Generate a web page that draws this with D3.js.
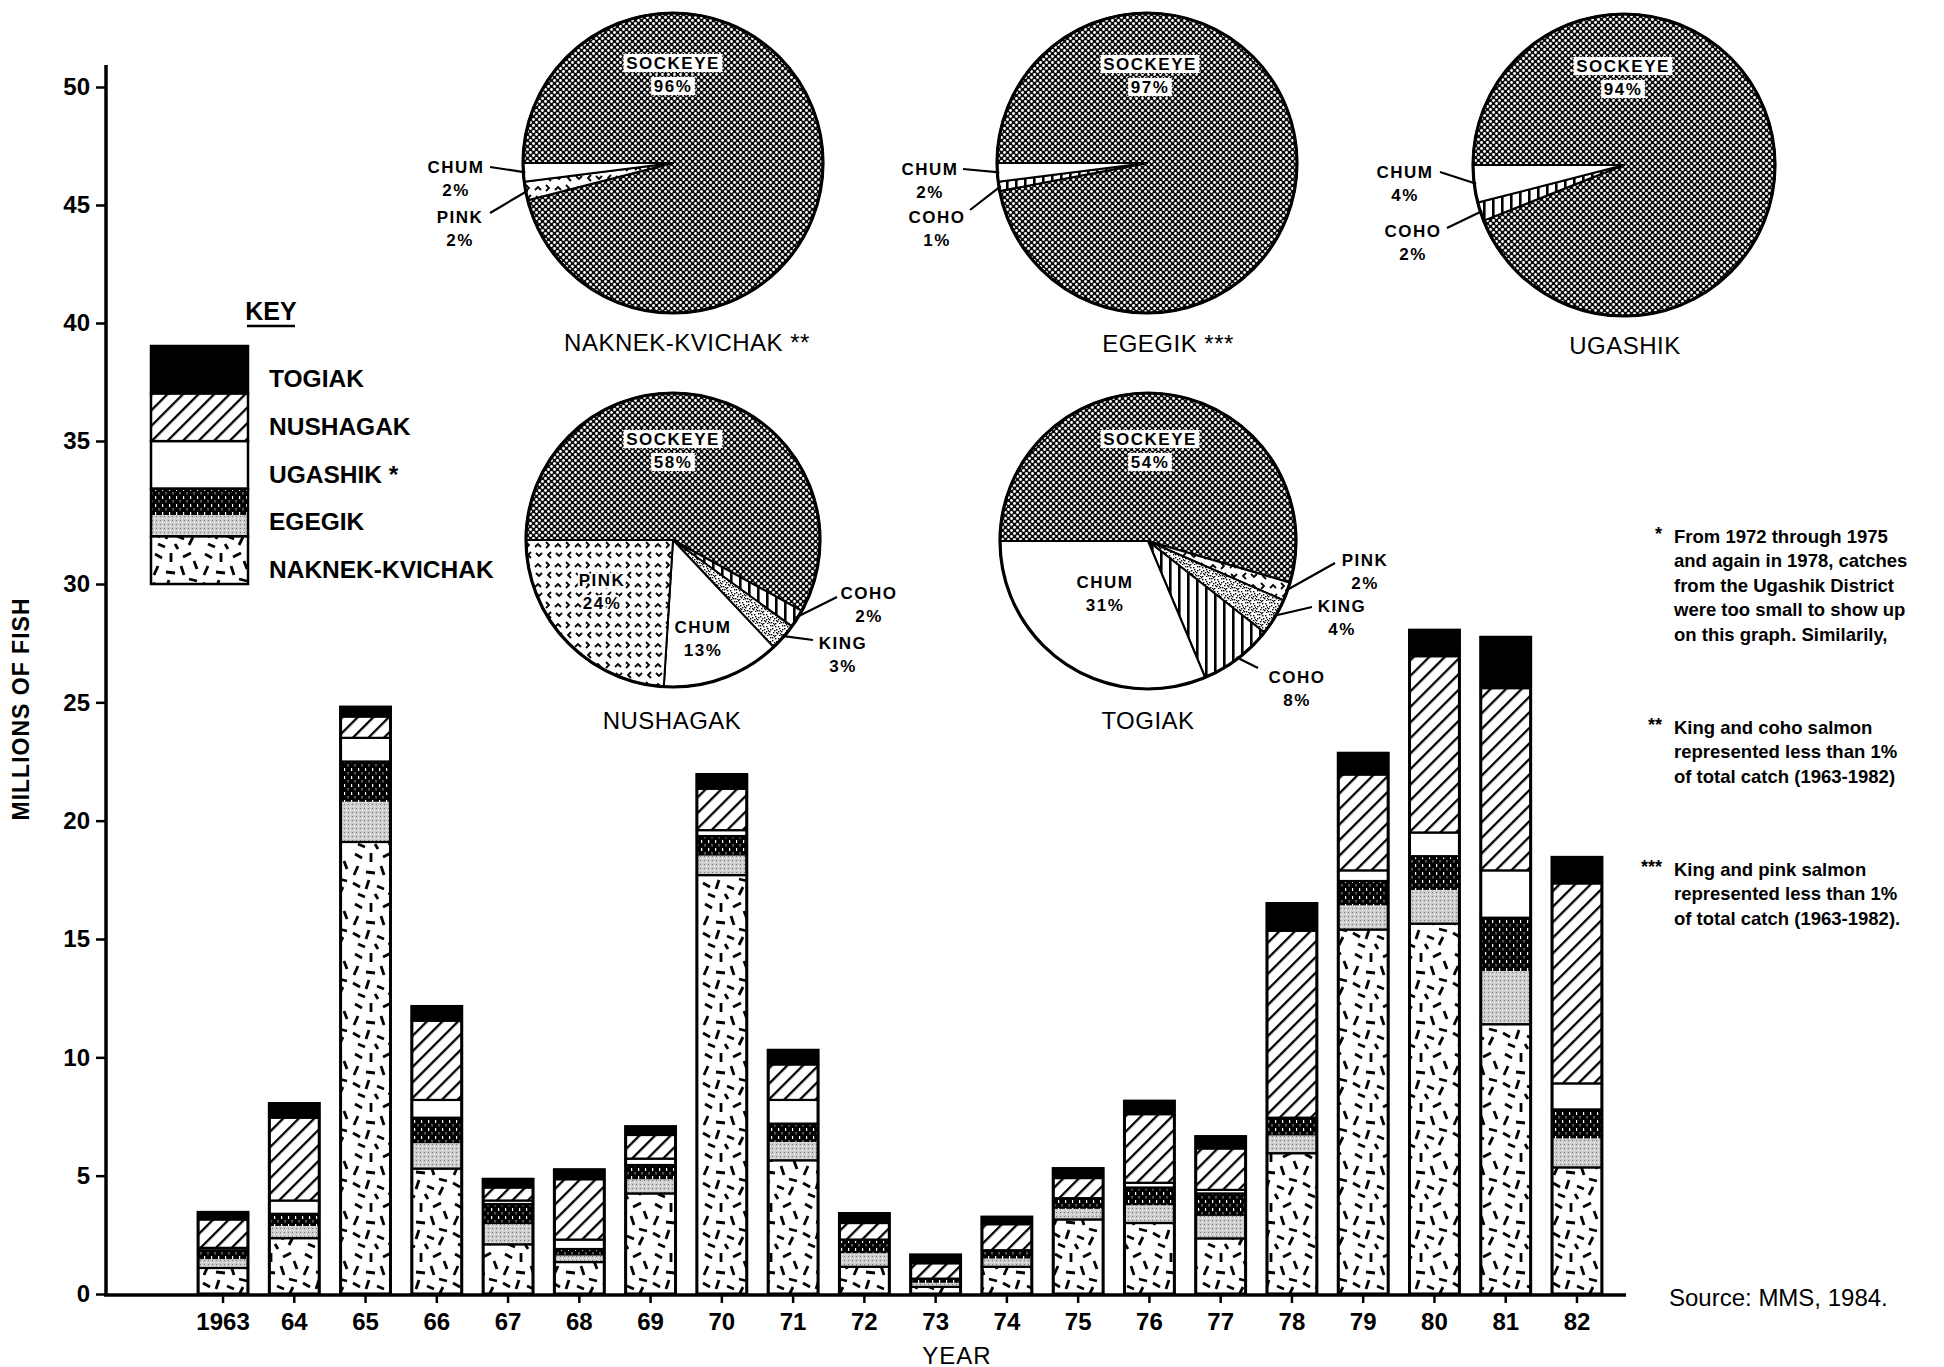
<!DOCTYPE html>
<html><head><meta charset="utf-8">
<script src="https://cdn.jsdelivr.net/npm/d3@7"></script>
<style>
body{margin:0;background:#fff}
svg{display:block}
text{font-family:"Liberation Sans",Arial,Helvetica,sans-serif;fill:#000}
</style>
</head><body>
<script>
// ---------------- DATA ----------------
const years = ["1963","64","65","66","67","68","69","70","71","72","73","74","75","76","77","78","79","80","81","82"];
const districtKeys = ["naknek","egegik","ugashik","nushagak","togiak"];
const districtLabels = ["NAKNEK-KVICHAK","EGEGIK","UGASHIK  *","NUSHAGAK","TOGIAK"];
// millions of fish, by district (bottom to top of each bar)
const naknek   = [1.10,2.36,19.10,5.30,2.10,1.35,4.25,17.70,5.65,1.15,0.30,1.15,3.15,3.00,2.35,5.95,15.40,15.65,11.40,5.35];
const egegik   = [0.75,1.03,3.40,2.15,1.70,0.55,1.20,1.65,1.55,1.15,0.35,0.70,0.90,1.50,1.90,1.50,2.05,2.85,4.50,2.45];
const ugashik  = [0.10,0.56,1.00,0.75,0.15,0.40,0.27,0.25,1.00,0,0,0,0,0.20,0.15,0,0.45,1.00,2.00,1.10];
const nushagak = [1.20,3.50,0.90,3.35,0.55,2.55,1.00,1.75,1.50,0.70,0.65,1.10,0.85,2.90,1.75,7.90,4.05,7.45,7.70,8.45];
const togiak   = [0.30,0.60,0.40,0.60,0.35,0.40,0.35,0.60,0.60,0.40,0.35,0.30,0.40,0.55,0.50,1.15,0.90,1.10,2.15,1.10];
const yTicks = [0,5,10,15,20,25,30,35,40,45,50];

// pie charts: species share of total catch (percent), in clockwise order from 9 o'clock
const pieTitles  = ["NAKNEK-KVICHAK **","EGEGIK ***","UGASHIK","NUSHAGAK","TOGIAK"];
const pieSpecies = [["SOCKEYE","PINK","CHUM"],["SOCKEYE","COHO","CHUM"],["SOCKEYE","COHO","CHUM"],["SOCKEYE","COHO","KING","CHUM","PINK"],["SOCKEYE","PINK","KING","COHO","CHUM"]];
const piePercents = [[96,2,2],[97,1,2],[94,2,4],[58,2,3,13,24],[54,2,4,8,31]];

const notes = [
  {mark:"*",   lines:["From 1972 through 1975","and again in 1978, catches","from the Ugashik District","were too small to show up","on this graph.  Similarily,"]},
  {mark:"**",  lines:["King and coho salmon","represented less than 1%","of total catch (1963-1982)"]},
  {mark:"***", lines:["King and pink salmon","represented less than 1%","of total catch (1963-1982)."]}
];

// ---------------- LAYOUT / STYLE ----------------
const W = 1944, H = 1367;
const svg = d3.select("body").append("svg").attr("width", W).attr("height", H);
const defs = svg.append("defs");

function pat(id, w, h, bg) {
  const p = defs.append("pattern").attr("id", id).attr("patternUnits", "userSpaceOnUse").attr("width", w).attr("height", h);
  p.append("rect").attr("width", w).attr("height", h).attr("fill", bg);
  return p;
}
// sockeye: black with white dots
const pS = pat("pSock", 6, 6, "#0c0c0c");
pS.append("circle").attr("cx", 1.5).attr("cy", 1.5).attr("r", 1.4).attr("fill", "#fff");
pS.append("circle").attr("cx", 4.5).attr("cy", 4.5).attr("r", 1.4).attr("fill", "#fff");
// pink: chevrons
const pP = pat("pPink", 20, 20, "#fff");
["M2,7 l3,-3 l3,3", "M13,2 l3,3 l-3,3", "M3,13 l3,3 l3,-3", "M18,12 l-3,3 l3,3"].forEach(d =>
  pP.append("path").attr("d", d).attr("fill", "none").attr("stroke", "#000").attr("stroke-width", 1.8));
// coho: vertical lines
const pC = pat("pCoho", 9, 10, "#fff");
pC.append("rect").attr("x", 3).attr("width", 2.6).attr("height", 10).attr("fill", "#000");
// king: stipple
const pK = pat("pKing", 12, 12, "#fff");
[[1,1],[5,0],[9,2],[3,4],[7,5],[11,6],[0,7],[4,8],[8,9],[2,10],[6,11],[10,11],[6,2],[1,5],[9,7],[4,11],[3,1],[10,4],[7,8],[0,10],[5,6],[11,9]]
  .forEach(([a, b]) => pK.append("rect").attr("x", a).attr("y", b).attr("width", 1.4).attr("height", 1.4).attr("fill", "#000"));
// nushagak: diagonal hatch
defs.append("pattern").attr("id", "pHatch").attr("patternUnits", "userSpaceOnUse").attr("width", 11).attr("height", 11)
  .attr("patternTransform", "rotate(45)")
  .call(p => { p.append("rect").attr("width", 11).attr("height", 11).attr("fill", "#fff");
               p.append("line").attr("x1", 1).attr("y1", 0).attr("x2", 1).attr("y2", 11).attr("stroke", "#000").attr("stroke-width", 2.6); });
// naknek: random short dashes
const pN = pat("pNak", 50, 50, "#fff");
[[5,4,12,8],[21,3,21,12],[33,7,41,3],[44,11,47,19],[8,16,4,25],[16,22,25,23],[31,16,34,25],[39,29,47,31],
 [3,33,10,37],[19,30,16,39],[27,36,34,39],[43,37,39,45],[8,44,15,47],[25,44,28,49]]
  .forEach(([a, b, c, d]) => pN.append("line").attr("x1", a).attr("y1", b).attr("x2", c).attr("y2", d)
    .attr("stroke", "#000").attr("stroke-width", 2.8).attr("stroke-linecap", "butt"));
// egegik: dark mottled + light stipple
const pED = pat("pEgD", 7, 8, "#000");
pED.append("rect").attr("x", 1).attr("y", 0).attr("width", 1.2).attr("height", 3).attr("fill", "#fff");
pED.append("rect").attr("x", 4.5).attr("y", 4).attr("width", 1).attr("height", 2.5).attr("fill", "#aaa");
const pEL = pat("pEgL", 4, 4, "#cdcdcd");
pEL.append("rect").attr("width", 1).attr("height", 1).attr("fill", "#777");
pEL.append("rect").attr("x", 2).attr("y", 2).attr("width", 1).attr("height", 1).attr("fill", "#fff");

const fills = {naknek: "url(#pNak)", egegik: "url(#pEgD)", ugashik: "#fff", nushagak: "url(#pHatch)", togiak: "#000"};
const pieFill = {SOCKEYE: "url(#pSock)", CHUM: "#fff", PINK: "url(#pPink)", COHO: "url(#pCoho)", KING: "url(#pKing)"};

// ---------------- SCALES ----------------
const y = d3.scaleLinear().domain([0, 30, 35, 50]).range([1294, 584, 441, 87]);
const x = d3.scaleBand().domain(years).range([176.7, 1623.3]).paddingInner(0.3).paddingOuter(0.3);

// ---------------- BARS ----------------
const rows = years.map((yr, i) => ({year: yr, naknek: naknek[i], egegik: egegik[i], ugashik: ugashik[i], nushagak: nushagak[i], togiak: togiak[i]}));
const series = d3.stack().keys(districtKeys)(rows);

const gBars = svg.append("g");
series.forEach(s => {
  const g = gBars.append("g");
  s.filter(d => d[1] - d[0] > 0.001).forEach(d => {
    const x0 = x(d.data.year), bw = x.bandwidth();
    const yTop = y(d[1]), yBot = y(d[0]);
    g.append("rect").attr("x", x0).attr("y", yTop).attr("width", bw).attr("height", yBot - yTop).attr("fill", fills[s.key]);
    if (s.key === "egegik") {
      const mid = yTop + (yBot - yTop) * 0.5;
      g.append("rect").attr("x", x0).attr("y", mid).attr("width", bw).attr("height", yBot - mid).attr("fill", "url(#pEgL)");
    }
    g.append("rect").attr("x", x0).attr("y", yTop).attr("width", bw).attr("height", yBot - yTop)
      .attr("fill", "none").attr("stroke", "#000").attr("stroke-width", 2.2);
  });
});
// bar outlines
gBars.selectAll(".outline").data(rows).join("rect").attr("class", "outline")
  .attr("x", d => x(d.year)).attr("width", x.bandwidth())
  .attr("y", d => y(d.naknek + d.egegik + d.ugashik + d.nushagak + d.togiak))
  .attr("height", d => y(0) - y(d.naknek + d.egegik + d.ugashik + d.nushagak + d.togiak))
  .attr("fill", "none").attr("stroke", "#000").attr("stroke-width", 3);

// ---------------- AXES ----------------
const gx = svg.append("g").attr("transform", `translate(0,${y(0)})`)
  .call(d3.axisBottom(x).tickSize(9).tickPadding(10));
gx.select(".domain").remove();
gx.selectAll(".tick line").attr("stroke", "#000").attr("stroke-width", 2.5);
gx.selectAll(".tick text").attr("font-size", 24).attr("font-weight", "bold").attr("font-family", "'Liberation Sans',Arial,sans-serif").attr("fill", "#000");
svg.append("line").attr("x1", 104).attr("x2", 1626).attr("y1", y(0) + 1).attr("y2", y(0) + 1).attr("stroke", "#000").attr("stroke-width", 3.5);

const gy = svg.append("g").attr("transform", "translate(106,0)")
  .call(d3.axisLeft(y).tickValues(yTicks).tickSize(10).tickPadding(6));
gy.select(".domain").remove();
gy.selectAll(".tick line").attr("stroke", "#000").attr("stroke-width", 2.5);
gy.selectAll(".tick text").attr("font-size", 24).attr("font-weight", "bold").attr("font-family", "'Liberation Sans',Arial,sans-serif").attr("fill", "#000");
svg.append("line").attr("x1", 106).attr("x2", 106).attr("y1", 65).attr("y2", y(0) + 2).attr("stroke", "#000").attr("stroke-width", 3.5);

svg.append("text").attr("x", 957).attr("y", 1355).attr("text-anchor", "middle").attr("dominant-baseline", "central")
  .attr("font-size", 24).attr("letter-spacing", 1).text("YEAR");
svg.append("text").attr("transform", "translate(21,709) rotate(-90)").attr("text-anchor", "middle").attr("dominant-baseline", "central")
  .attr("font-size", 23).attr("font-weight", "bold").attr("letter-spacing", 1).text("MILLIONS OF FISH");

// ---------------- KEY ----------------
svg.append("text").attr("x", 271).attr("y", 311).attr("text-anchor", "middle").attr("dominant-baseline", "central")
  .attr("font-size", 25).attr("font-weight", "bold").text("KEY");
svg.append("line").attr("x1", 247).attr("x2", 295).attr("y1", 326).attr("y2", 326).attr("stroke", "#000").attr("stroke-width", 2.5);
const keyOrder = districtKeys.slice().reverse();
const ky = d3.scaleBand().domain(keyOrder).range([346, 584]);
keyOrder.forEach(k => {
  svg.append("rect").attr("x", 151).attr("y", ky(k)).attr("width", 97).attr("height", ky.bandwidth()).attr("fill", fills[k]);
  if (k === "egegik") svg.append("rect").attr("x", 151).attr("y", ky(k) + ky.bandwidth() * 0.55).attr("width", 97).attr("height", ky.bandwidth() * 0.45).attr("fill", "url(#pEgL)");
  svg.append("rect").attr("x", 151).attr("y", ky(k)).attr("width", 97).attr("height", ky.bandwidth()).attr("fill", "none").attr("stroke", "#000").attr("stroke-width", 2.5);
  svg.append("text").attr("x", 269).attr("y", ky(k) + ky.bandwidth() / 2 + 9).attr("dominant-baseline", "central")
    .attr("font-size", 24.5).attr("font-weight", "bold").text(districtLabels[districtKeys.indexOf(k)]);
});

// ---------------- PIES ----------------
const pieLayout = [
  {cx: 673,  cy: 163, r: 150, title: [687, 342],
   labels: {SOCKEYE: {x: 673, y: 63, box: true}, CHUM: {x: 456, y: 167, lx: 490, ly: 167}, PINK: {x: 460, y: 217, lx: 490, ly: 213}}},
  {cx: 1147, cy: 163, r: 150, title: [1168, 343],
   labels: {SOCKEYE: {x: 1150, y: 64, box: true}, CHUM: {x: 930, y: 169, lx: 963, ly: 169}, COHO: {x: 937, y: 217, lx: 970, ly: 210}}},
  {cx: 1624, cy: 165, r: 151, title: [1625, 345],
   labels: {SOCKEYE: {x: 1623, y: 66, box: true}, CHUM: {x: 1405, y: 172, lx: 1440, ly: 172}, COHO: {x: 1413, y: 231, lx: 1447, ly: 228}}},
  {cx: 673,  cy: 540, r: 147, title: [672, 720],
   labels: {SOCKEYE: {x: 673, y: 439, box: true}, PINK: {x: 602, y: 580, halo: true}, CHUM: {x: 703, y: 627},
            COHO: {x: 869, y: 593, lx: 837, ly: 597}, KING: {x: 843, y: 643, lx: 813, ly: 640}}},
  {cx: 1148, cy: 541, r: 148, title: [1148, 720],
   labels: {SOCKEYE: {x: 1150, y: 439, box: true}, CHUM: {x: 1105, y: 582},
            PINK: {x: 1365, y: 560, lx: 1335, ly: 563}, KING: {x: 1342, y: 606, lx: 1312, ly: 607}, COHO: {x: 1297, y: 677, lx: 1258, ly: 668}}}
];
const pie = d3.pie().sort(null).value(d => d.v).startAngle(-Math.PI / 2).endAngle(1.5 * Math.PI);

pieTitles.forEach((title, i) => {
  const L = pieLayout[i];
  const data = pieSpecies[i].map((s, j) => ({s, v: piePercents[i][j]}));
  const arcs = pie(data);
  const arc = d3.arc().innerRadius(0).outerRadius(L.r);
  const g = svg.append("g").attr("transform", `translate(${L.cx},${L.cy})`);
  g.selectAll("path").data(arcs).join("path").attr("d", arc)
    .attr("fill", d => pieFill[d.data.s]).attr("stroke", "#000").attr("stroke-width", 2).attr("stroke-linejoin", "round");
  g.append("circle").attr("r", L.r).attr("fill", "none").attr("stroke", "#000").attr("stroke-width", 3.2);

  // labels
  arcs.forEach(a => {
    const lab = L.labels[a.data.s];
    if (!lab) return;
    const lines = [a.data.s, a.data.v + "%"];
    const tg = svg.append("g");
    lines.forEach((t, k) => {
      const tx = tg.append("text").attr("x", lab.x).attr("y", lab.y + k * 23).attr("text-anchor", "middle")
        .attr("dominant-baseline", "central").attr("font-size", 17).attr("font-weight", "bold").attr("letter-spacing", 1.5).text(t);
      if (lab.halo) tx.attr("stroke", "#fff").attr("stroke-width", 4).attr("paint-order", "stroke").attr("stroke-linejoin", "round");
      if (lab.box) {
        const bb = tx.node().getBBox();
        tg.insert("rect", "text").attr("x", bb.x - 3).attr("y", bb.y).attr("width", bb.width + 6).attr("height", bb.height)
          .attr("fill", "#fff").attr("stroke", "#000").attr("stroke-width", 1).attr("stroke-dasharray", "1.5,2");
      }
    });
    if (lab.lx !== undefined) {
      const m = (a.startAngle + a.endAngle) / 2;
      const ex = L.cx + (L.r - 2) * Math.sin(m), ey = L.cy - (L.r - 2) * Math.cos(m);
      svg.append("line").attr("x1", lab.lx).attr("y1", lab.ly).attr("x2", ex).attr("y2", ey)
        .attr("stroke", "#000").attr("stroke-width", 2.2);
    }
  });
  svg.append("text").attr("x", L.title[0]).attr("y", L.title[1]).attr("text-anchor", "middle").attr("dominant-baseline", "central")
    .attr("font-size", 24).attr("letter-spacing", 0.5).text(title);
});

// ---------------- NOTES ----------------
const noteTop = [536, 727, 869];
notes.forEach((n, i) => {
  svg.append("text").attr("x", 1662).attr("y", noteTop[i] - 2).attr("text-anchor", "end").attr("dominant-baseline", "central")
    .attr("font-size", 18).attr("font-weight", "bold").text(n.mark);
  n.lines.forEach((t, k) => {
    svg.append("text").attr("x", 1674).attr("y", noteTop[i] + k * 24.5).attr("dominant-baseline", "central")
      .attr("font-size", 18.5).attr("font-weight", "bold").text(t);
  });
});
svg.append("text").attr("x", 1669).attr("y", 1297).attr("dominant-baseline", "central")
  .attr("font-size", 24).text("Source:  MMS, 1984.");
</script>
</body></html>
